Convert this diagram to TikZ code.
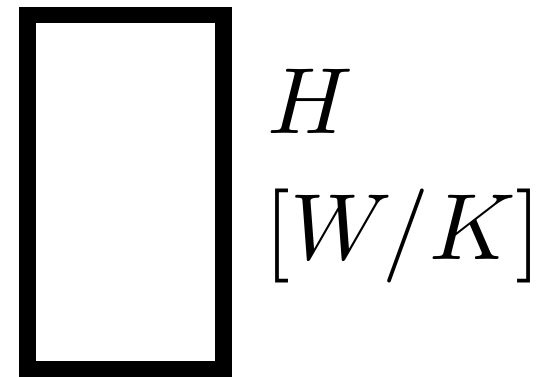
\documentclass[tikz,border=0pt]{standalone}
\begin{document}
\begin{tikzpicture}[x=1pt,y=1pt,
  frame/.style={draw=black,line width=16.5pt},
  lbl/.style={inner sep=0pt,anchor=base west,scale=9.4}]
\useasboundingbox (0,0) rectangle (538,-376);
\draw[frame] (27.5,-15) rectangle (223.7,-369);
\node[lbl] (h) at (266,-133) {$H$};
\node[lbl] (u) at (263,-259) {$[W/K]$};
\end{tikzpicture}
\end{document}
